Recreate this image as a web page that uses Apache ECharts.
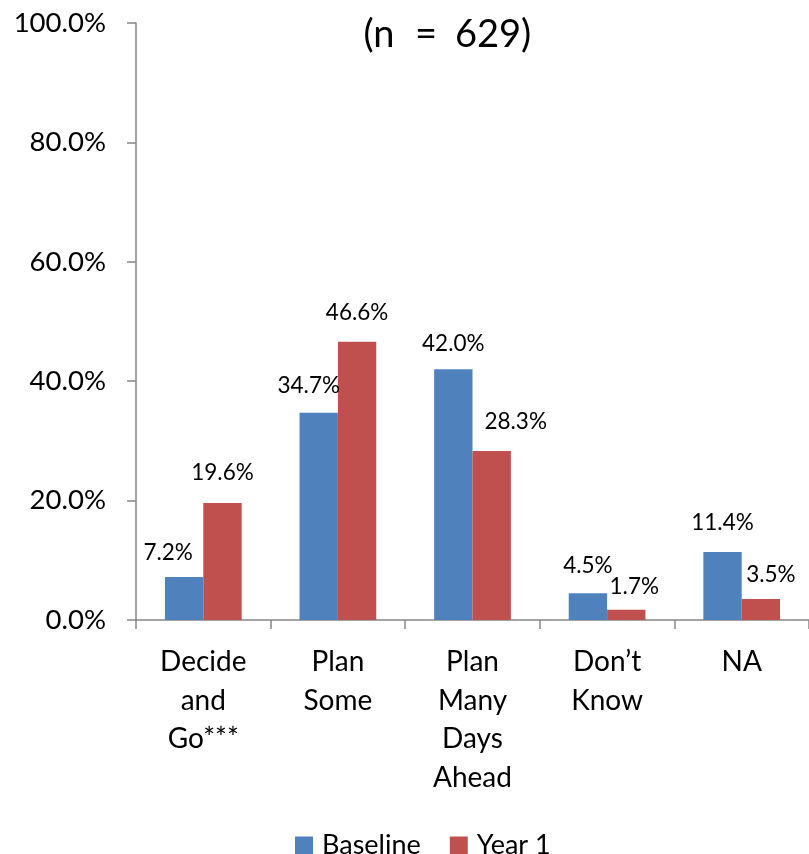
<!DOCTYPE html>
<html>
<head>
<meta charset="utf-8">
<script src="https://cdn.jsdelivr.net/npm/echarts@6/dist/echarts.min.js"></script>
<style>
html,body{margin:0;padding:0;background:#fff;}
#chart{width:809px;height:854px;}
</style>
</head>
<body>
<div id="chart"></div>
<script>
var categories = ["Decide\nand\nGo***", "Plan\nSome", "Plan\nMany\nDays\nAhead", "Don\u2019t\nKnow", "NA"];
var baseline = [7.2, 34.7, 42.0, 4.5, 11.4];
var year1 = [19.6, 46.6, 28.3, 1.7, 3.5];
var yTicks = [0, 20, 40, 60, 80, 100];
var seriesNames = ["Baseline", "Year 1"];
var titleParts = ["(n", "=", "629)"]; // "(n = 629)"

// label nudges (style only)
var baselineLabelShift = [[-16, 3], [-10, 0], [0, 1], [0, 0], [0, -2]];
var year1LabelShift = [[0, -3], [0, -2], [24, -2], [8, 4], [10, 3]];

var FONT = "Lato";
function makeData(vals, shifts) {
  return vals.map(function (v, i) {
    return { value: v, label: { offset: shifts[i] } };
  });
}

var chart = echarts.init(document.getElementById('chart'), null, { renderer: 'canvas' });
var axisColor = '#868686';
var titleStyle = { fontFamily: FONT, fontSize: 38, lineHeight: 44, color: '#000' };
chart.setOption({
  animation: false,
  backgroundColor: '#ffffff',
  textStyle: { fontFamily: FONT },
  title: {
    text: '{a|' + titleParts[0] + '}{b|' + titleParts[1] + '}{c|' + titleParts[2] + '}',
    left: 361,
    top: 13,
    padding: 0,
    textStyle: {
      fontFamily: FONT, fontSize: 38, fontWeight: 'normal', color: '#000', lineHeight: 44,
      rich: {
        a: Object.assign({ width: 36, align: 'right' }, titleStyle),
        b: Object.assign({ width: 58, align: 'center' }, titleStyle),
        c: Object.assign({ align: 'left' }, titleStyle)
      }
    }
  },
  legend: {
    data: seriesNames,
    left: 290,
    top: 827,
    itemWidth: 18,
    itemHeight: 18,
    itemGap: 29,
    icon: 'rect',
    textStyle: { fontFamily: FONT, fontSize: 27, color: '#000', padding: [0, 0, 0, 4] }
  },
  grid: { left: 136, right: -3, top: 23, bottom: 234, containLabel: false },
  xAxis: {
    type: 'category',
    data: categories,
    axisLine: { lineStyle: { color: axisColor, width: 1.5 } },
    axisTick: { show: true, length: 9, lineStyle: { color: axisColor, width: 1.5 } },
    axisLabel: {
      interval: 0,
      margin: 23,
      fontFamily: FONT,
      fontSize: 28,
      lineHeight: 38.5,
      color: '#000'
    },
    splitLine: { show: false }
  },
  yAxis: {
    type: 'value',
    min: yTicks[0],
    max: yTicks[yTicks.length - 1],
    interval: 20,
    axisLine: { show: true, lineStyle: { color: axisColor, width: 1.5 } },
    axisTick: { show: true, length: 9, lineStyle: { color: axisColor, width: 1.5 } },
    axisLabel: {
      margin: 30,
      fontFamily: FONT,
      fontSize: 27.5,
      color: '#000',
      formatter: function (v) { return v.toFixed(1) + '%'; }
    },
    splitLine: { show: false }
  },
  series: [
    {
      name: seriesNames[0],
      type: 'bar',
      data: makeData(baseline, baselineLabelShift),
      barGap: '0%',
      barCategoryGap: '43%',
      itemStyle: { color: '#4F81BD' },
      label: {
        show: true, position: 'top', distance: 15,
        fontFamily: FONT, fontSize: 22.5, lineHeight: 24, color: '#000',
        formatter: function (p) { return p.value.toFixed(1) + '%'; }
      }
    },
    {
      name: seriesNames[1],
      type: 'bar',
      data: makeData(year1, year1LabelShift),
      barGap: '0%',
      barCategoryGap: '43%',
      itemStyle: { color: '#C0504D' },
      label: {
        show: true, position: 'top', distance: 15,
        fontFamily: FONT, fontSize: 22.5, lineHeight: 24, color: '#000',
        formatter: function (p) { return p.value.toFixed(1) + '%'; }
      }
    }
  ]
});
</script>
</body>
</html>
